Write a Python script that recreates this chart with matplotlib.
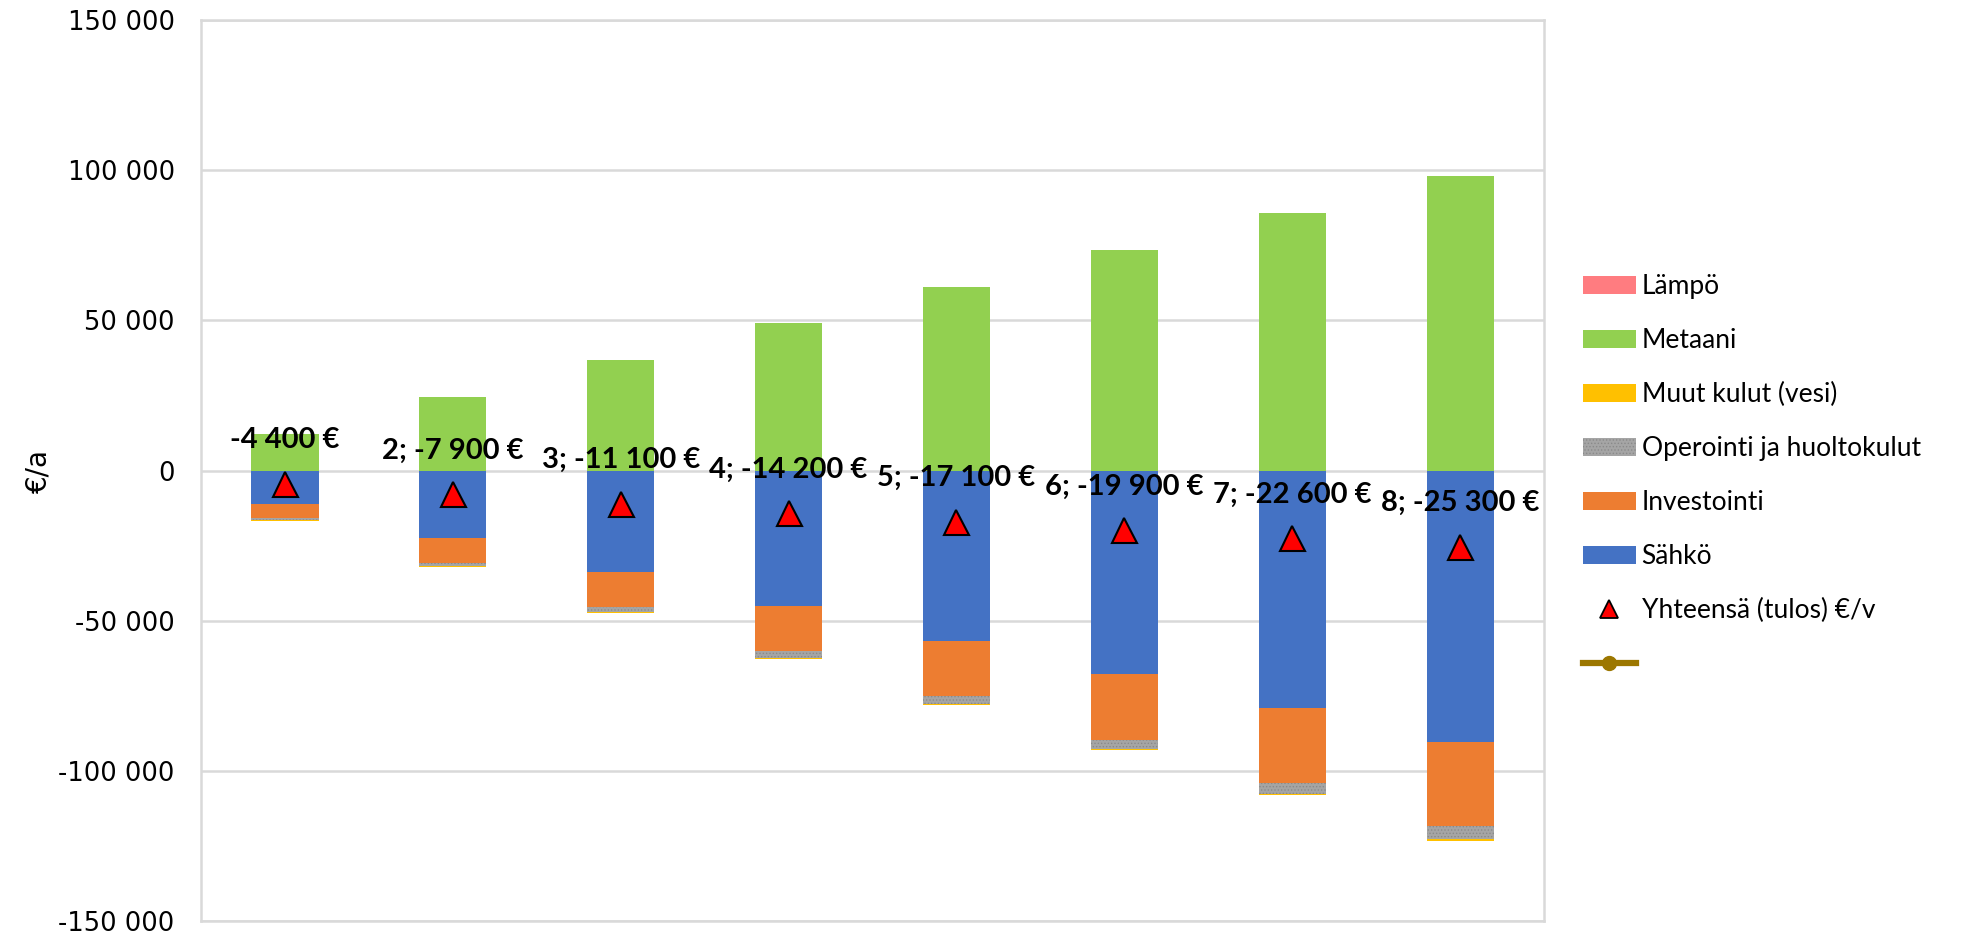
import numpy as np
import matplotlib.pyplot as plt
from matplotlib.patches import Patch
from matplotlib.lines import Line2D
from matplotlib.ticker import FuncFormatter

# arvot luettu kuvasta (€/a)
kategoriat = [1, 2, 3, 4, 5, 6, 7, 8]
lampo = [0, 0, 0, 0, 0, 0, 0, 0]
metaani = [12300, 24500, 36800, 49000, 61200, 73500, 85700, 98000]
sahko = [-11300, -22600, -33900, -45200, -56600, -67900, -79200, -90500]
investointi = [-4500, -8200, -11700, -15000, -18400, -21700, -24800, -28000]
operointi = [-600, -1100, -1600, -2100, -2600, -3100, -3600, -4100]
muut_kulut = [-300, -300, -400, -400, -500, -500, -600, -700]
yhteensa = [-4400, -7900, -11100, -14200, -17100, -19900, -22600, -25300]
nimet = ['-4 400 €', '2; -7 900 €', '3; -11 100 €', '4; -14 200 €',
         '5; -17 100 €', '6; -19 900 €', '7; -22 600 €', '8; -25 300 €']

c_lampo = '#ff7c80'
c_metaani = '#92d050'
c_muut = '#ffc000'
c_oper = '#a5a5a5'
c_inv = '#ed7d31'
c_sahko = '#4472c4'

plt.rcParams['font.family'] = ['DejaVu Sans']
plt.rcParams['hatch.color'] = '#8a8a8a'
plt.rcParams['hatch.linewidth'] = 0.6

fig = plt.figure(figsize=(19.77, 9.32), dpi=100)
ax = fig.add_axes([0.1017, 0.0118, 0.6793, 0.9667])

x = np.arange(len(kategoriat))
w = 0.4

ax.bar(x, lampo, w, color=c_lampo, zorder=2)
ax.bar(x, metaani, w, bottom=lampo, color=c_metaani, zorder=2)

# negatiiviset pinotaan nollasta alaspäin
ala = np.zeros(len(x))
ax.bar(x, sahko, w, bottom=ala, color=c_sahko, zorder=2)
ala = ala + np.array(sahko)
ax.bar(x, investointi, w, bottom=ala, color=c_inv, zorder=2)
ala = ala + np.array(investointi)
ax.bar(x, operointi, w, bottom=ala, color=c_oper, hatch='.....', linewidth=0, zorder=2)
ala = ala + np.array(operointi)
ax.bar(x, muut_kulut, w, bottom=ala, color=c_muut, zorder=2)

ax.plot(x, yhteensa, linestyle='none', marker='^', markersize=18,
        markerfacecolor='#ff0000', markeredgecolor='black', markeredgewidth=1.5, zorder=4)

for xi, yi, t in zip(x, yhteensa, nimet):
    ax.annotate(t, (xi, yi), xytext=(0, 31.5), textcoords='offset points',
                ha='center', va='center', fontsize=21, fontweight='bold',
                family=['Lato', 'DejaVu Sans'], zorder=5)

ax.set_xlim(-0.5, len(x) - 0.5)
ax.set_ylim(-150000, 150000)
ax.set_yticks(np.arange(-150000, 150001, 50000))
ax.yaxis.set_major_formatter(FuncFormatter(lambda v, p: f'{int(v):,}'.replace(',', ' ')))
ax.set_xticks([])
ax.tick_params(axis='y', length=0, labelsize=18.5, pad=19)
ax.grid(axis='y', color='#d9d9d9', linewidth=1.8, zorder=0)
for s in ax.spines.values():
    s.set_color('#d9d9d9')
    s.set_linewidth(1.8)
fig.text(38 / 1977, 0.4946, '€/a', rotation=90, ha='center', va='center', fontsize=20)

handles = [
    Patch(facecolor=c_lampo, label='Lämpö'),
    Patch(facecolor=c_metaani, label='Metaani'),
    Patch(facecolor=c_muut, label='Muut kulut (vesi)'),
    Patch(facecolor=c_oper, hatch='.....', linewidth=0, label='Operointi ja huoltokulut'),
    Patch(facecolor=c_inv, label='Investointi'),
    Patch(facecolor=c_sahko, label='Sähkö'),
    Line2D([], [], linestyle='none', marker='^', markersize=13, markerfacecolor='#ff0000',
           markeredgecolor='black', markeredgewidth=1.3, label='Yhteensä (tulos) €/v'),
    Line2D([], [], color='#9c7700', linewidth=4.5, marker='o', markersize=10, label=' '),
]
fig.legend(handles=handles, loc='upper left', bbox_to_anchor=(0.8007, 0.706),
           frameon=False, handlelength=2.0, handleheight=0.7,
           labelspacing=1.10, handletextpad=0.22, borderpad=0, borderaxespad=0,
           prop={'family': ['Lato', 'DejaVu Sans'], 'size': 19})

fig.savefig('out.png', dpi=100)
